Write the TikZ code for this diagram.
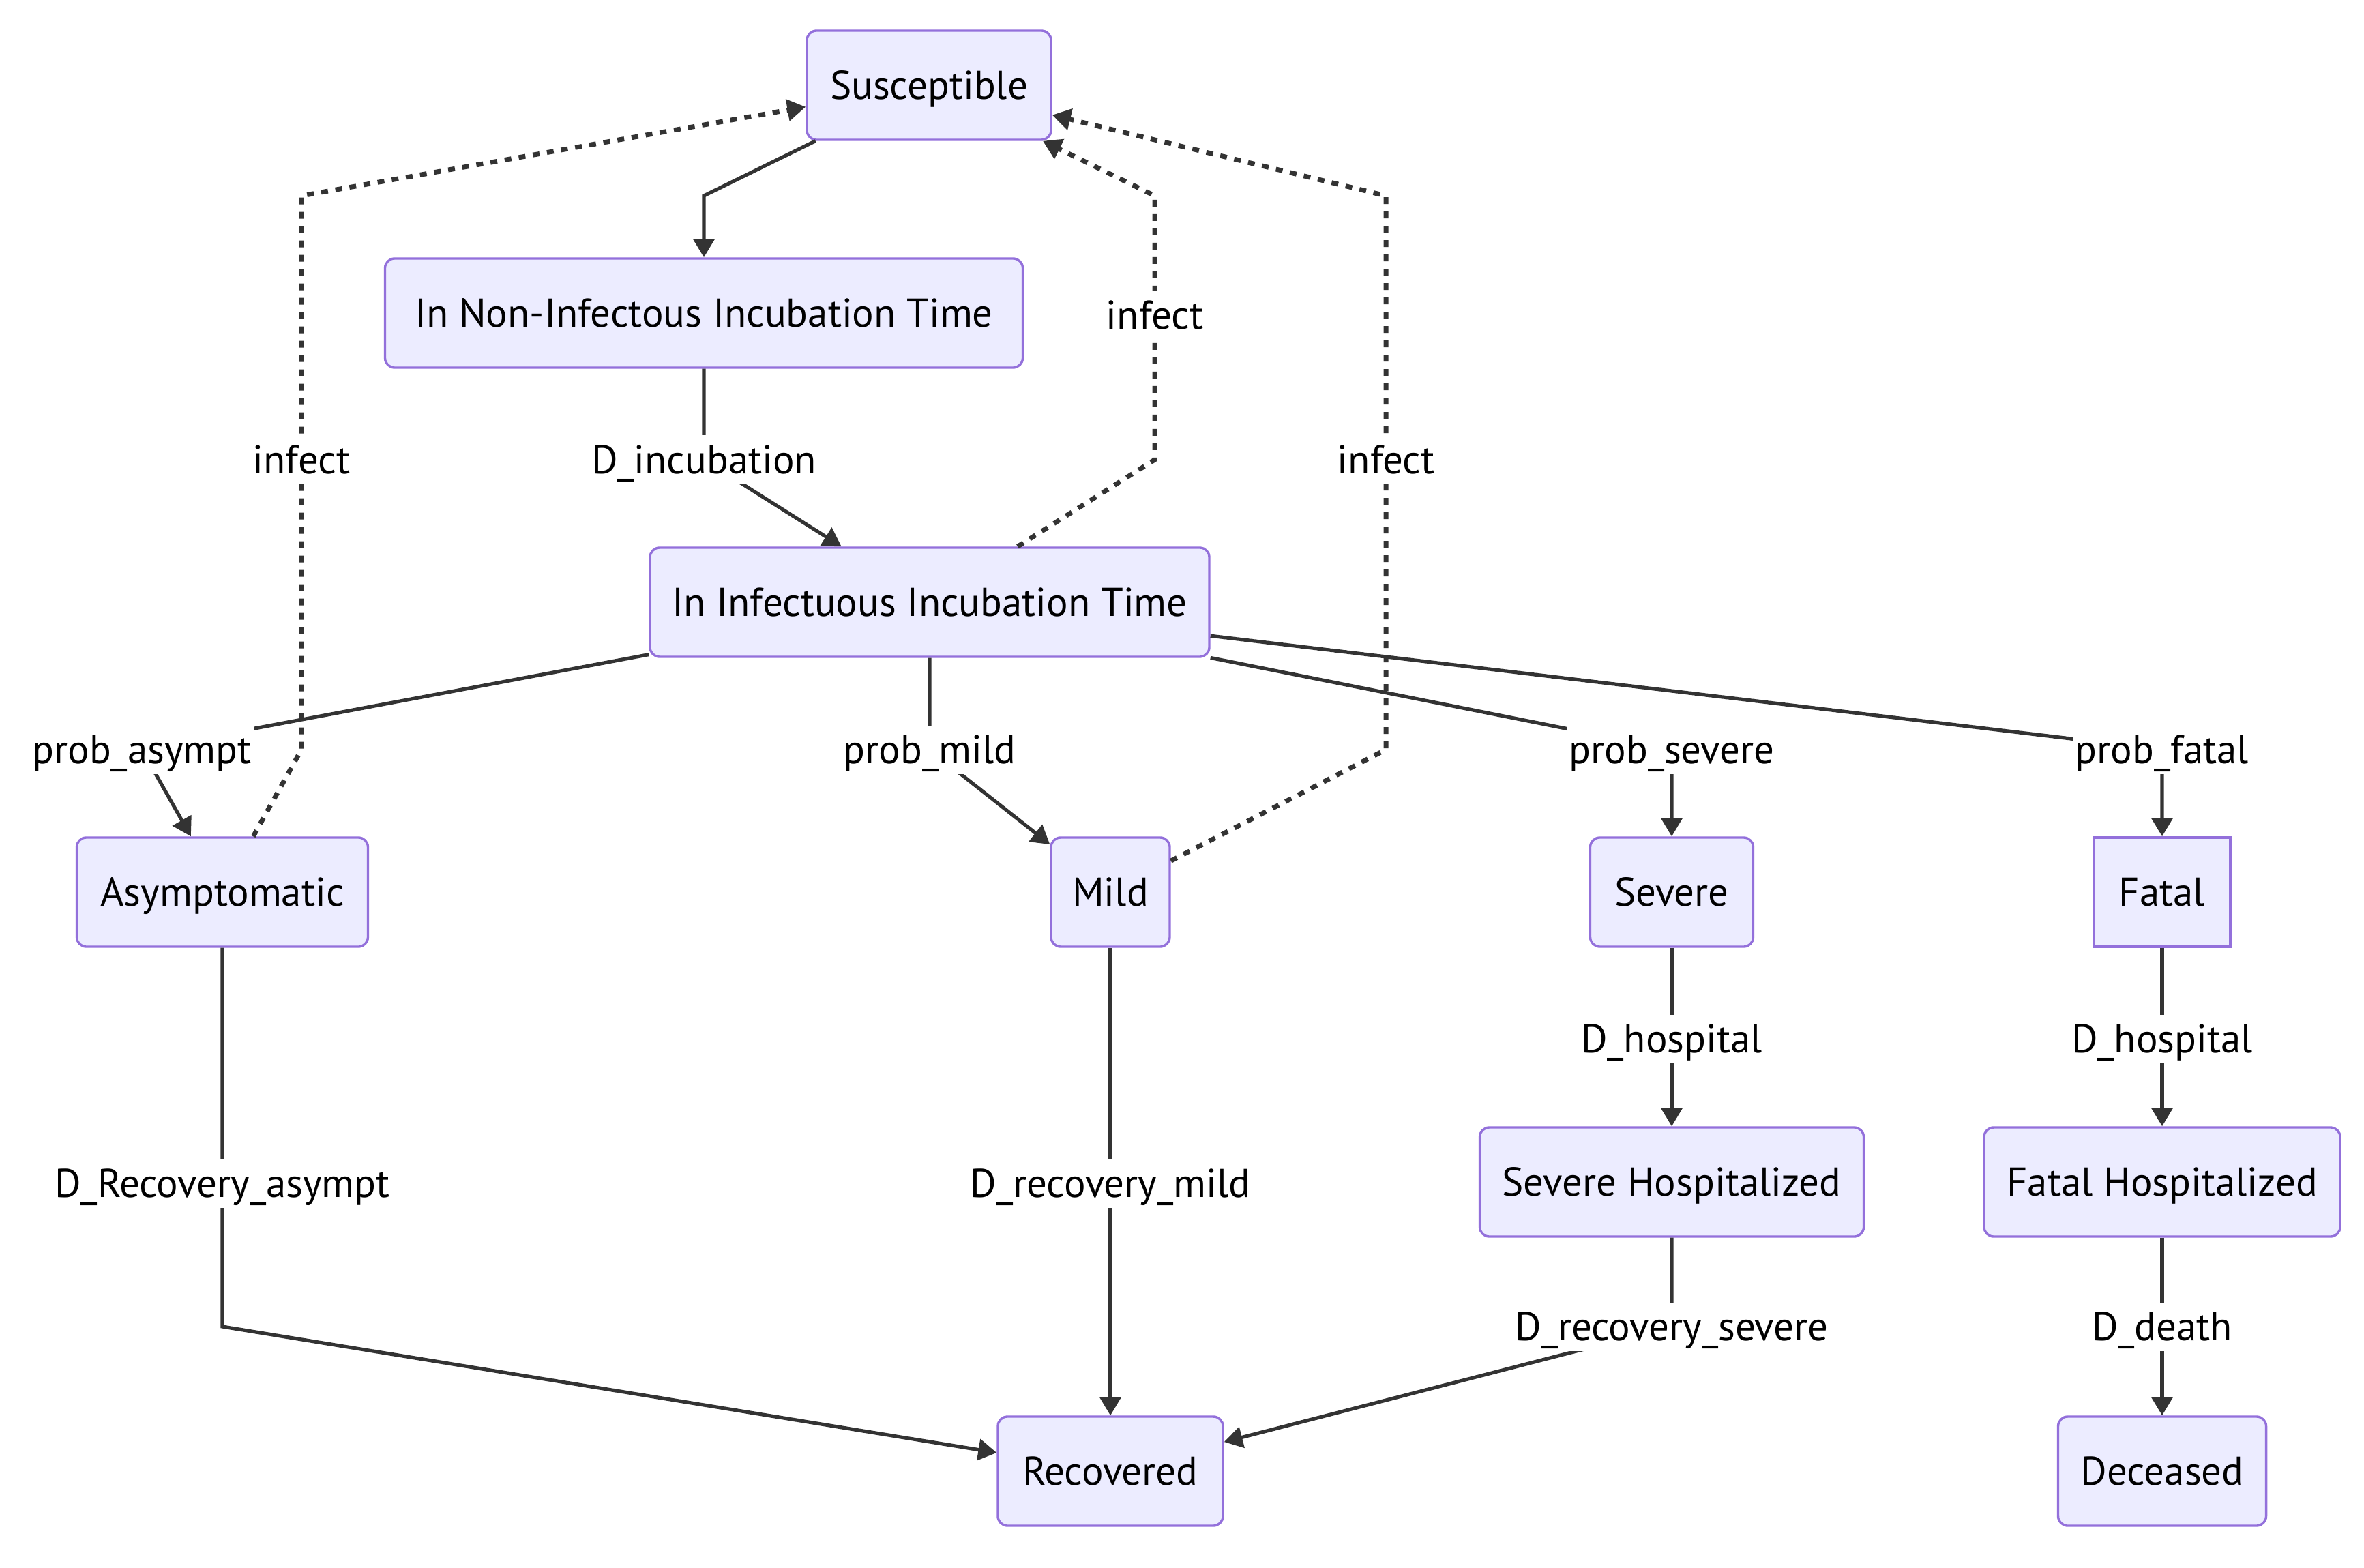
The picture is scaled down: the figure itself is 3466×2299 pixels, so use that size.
\documentclass[tikz,border=0pt]{standalone}
\usepackage{fontspec}
\setmainfont{PT Sans}
\usetikzlibrary{arrows.meta}
\definecolor{nodefill}{HTML}{ECECFF}
\definecolor{nodeline}{HTML}{9370DB}
\definecolor{edgeline}{HTML}{333333}
\begin{document}
\begin{tikzpicture}[x=0.25pt,y=-0.25pt,
  txt/.style={font=\fontsize{14.75pt}{18pt}\selectfont, text=black,
    text height=10.4pt, text depth=0pt},
  state/.style={txt, draw=nodeline, fill=nodefill, line width=0.85pt,
    rounded corners=3.5pt, minimum height=40pt, inner sep=0pt},
  sharpstate/.style={state, rounded corners=0pt},
  edge/.style={draw=edgeline, line width=1.3pt,
    -{Triangle[length=6.75pt,width=7.75pt]}},
  infect/.style={edge, line width=1.75pt, dash pattern=on 2.5pt off 2.75pt},
  lbl/.style={txt, fill=white, inner xsep=1pt, inner ysep=0pt, minimum height=17.75pt},
]
\useasboundingbox (0,0) rectangle (3466,2299);

% states
\node[state, minimum width=89.5pt]   (sus)  at (1362,125)  {Susceptible};
\node[state, minimum width=233.75pt] (nit)  at (1032,459)  {In Non-Infectous Incubation Time};
\node[state, minimum width=205pt]    (iit)  at (1363,883)  {In Infectuous Incubation Time};
\node[state, minimum width=106.75pt] (asy)  at (326,1308)  {Asymptomatic};
\node[state, minimum width=43.5pt]   (mild) at (1628,1308) {Mild};
\node[state, minimum width=59.75pt]  (sev)  at (2451,1308) {Severe};
\node[sharpstate, minimum width=50pt] (fat) at (3170,1308) {Fatal};
\node[state, minimum width=140.75pt] (sh)   at (2451,1733) {Severe Hospitalized};
\node[state, minimum width=130.5pt]  (fh)   at (3170,1733) {Fatal Hospitalized};
\node[state, minimum width=82.5pt]   (rec)  at (1628,2157) {Recovered};
\node[state, minimum width=76.25pt]  (dec)  at (3170,2157) {Deceased};

% bend points of the connectors
\coordinate (k1) at (1032,287);
\coordinate (k2) at (1032,674);
\coordinate (p1) at (208,1099);
\coordinate (p2) at (1363,1099);
\coordinate (p3) at (2451,1099);
\coordinate (p4) at (3170,1099);
\coordinate (r1) at (326,1735);
\coordinate (r2) at (326,1945);
\coordinate (r3) at (1628,1735);
\coordinate (s1) at (2451,1523);
\coordinate (s2) at (2451,1945);
\coordinate (f1) at (3170,1523);
\coordinate (d1) at (3170,1945);
\coordinate (a1) at (442,1099);
\coordinate (a2) at (442,674);
\coordinate (a3) at (442,287);
\coordinate (i1) at (1693,674);
\coordinate (i2) at (1693,462);
\coordinate (i3) at (1693,287);
\coordinate (m1) at (2032,1099);
\coordinate (m2) at (2032,674);
\coordinate (m3) at (2032,287);

% transitions
\draw[edge] (sus) -- (k1) -- (nit);
\draw[edge] (nit) -- (k2) node[lbl] (lInc) {D\_incubation} -- (iit);
\draw[edge] (iit) -- (p1) node[lbl] (lAsy) {prob\_asympt} -- (asy);
\draw[edge] (iit) -- (p2) node[lbl] (lMild) {prob\_mild} -- (mild);
\draw[edge] (iit) -- (p3) node[lbl] (lSev) {prob\_severe} -- (sev);
\draw[edge] (iit) -- (p4) node[lbl] (lFat) {prob\_fatal} -- (fat);
\draw[edge] (asy) -- (r1) node[lbl] (lRa) {D\_Recovery\_asympt} -- (r2) -- (rec);
\draw[edge] (mild) -- (r3) node[lbl] (lRm) {D\_recovery\_mild} -- (rec);
\draw[edge] (sev) -- (s1) node[lbl] (lHs) {D\_hospital} -- (sh);
\draw[edge] (fat) -- (f1) node[lbl] (lHf) {D\_hospital} -- (fh);
\draw[edge] (sh) -- (s2) node[lbl] (lRs) {D\_recovery\_severe} -- (rec);
\draw[edge] (fh) -- (d1) node[lbl] (lDd) {D\_death} -- (dec);

% infection feedback
\draw[infect] (asy) -- (a1) -- (a2) node[lbl] (lIa) {infect} -- (a3) -- (sus);
\draw[infect] (iit) -- (i1) -- (i2) node[lbl] (lIi) {infect} -- (i3) -- (sus);
\draw[infect] (mild) -- (m1) -- (m2) node[lbl] (lIm) {infect} -- (m3) -- (sus);
\end{tikzpicture}
\end{document}
